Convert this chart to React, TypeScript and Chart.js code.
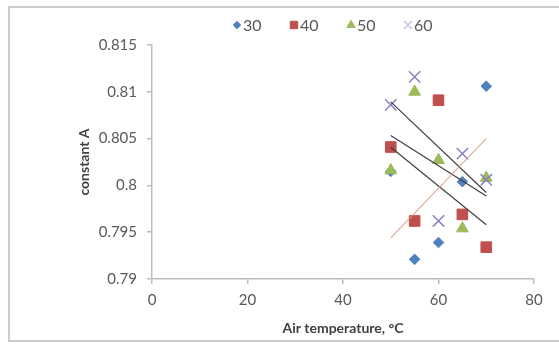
import React, { useEffect, useRef } from 'react';
import { Chart, registerables } from 'chart.js';
import { drawPoint } from 'chart.js/helpers';

Chart.register(...registerables);

// ---- data ----
const TEMPS = [50, 55, 60, 65, 70];
const SERIES_LABELS = ['30', '40', '50', '60'];
const A_30 = [0.8015, 0.7921, 0.7939, 0.8004, 0.8106];
const A_40 = [0.8041, 0.7962, 0.8091, 0.7969, 0.7934];
const A_50 = [0.8016, 0.81, 0.8027, 0.7954, 0.8008];
const A_60 = [0.8086, 0.8116, 0.7962, 0.8034, 0.8006];
const SERIES_VALUES = [A_30, A_40, A_50, A_60];
const X_TICKS = [0, 20, 40, 60, 80];
const Y_TICKS = [0.79, 0.795, 0.8, 0.805, 0.81, 0.815];
const X_TITLE = 'Air temperature, °C';
const Y_TITLE = 'constant A';

// ---- styles ----
const FONT = 'Lato, "Liberation Sans", sans-serif';
const STYLES = [
  { color: '#4F81BD', pointStyle: 'rectRot', radius: 5.3, borderWidth: 1, legendColor: '#4F81BD' },
  { color: '#C0504D', pointStyle: 'rect', radius: 7.5, borderWidth: 1, legendColor: '#C0504D' },
  { color: '#9BBB59', pointStyle: 'triangle', radius: 6.8, borderWidth: 1, legendColor: '#9BBB59' },
  { color: '#8D80C2', pointStyle: 'crossRot', radius: 8, borderWidth: 1.5, legendColor: '#c9c4dd' },
];
const TREND_COLORS = ['rgba(214,160,135,0.85)', '#3f3f3f', '#3f3f3f', '#3f3f3f'];

// least-squares linear trendline (as Excel draws it), over the series' x range
function trendline(xs: number[], ys: number[]) {
  const n = xs.length;
  const mx = xs.reduce((a, b) => a + b, 0) / n;
  const my = ys.reduce((a, b) => a + b, 0) / n;
  let sxy = 0;
  let sxx = 0;
  for (let i = 0; i < n; i++) {
    sxy += (xs[i] - mx) * (ys[i] - my);
    sxx += (xs[i] - mx) * (xs[i] - mx);
  }
  const b = sxy / sxx;
  const a = my - b * mx;
  const x0 = Math.min(...xs);
  const x1 = Math.max(...xs);
  return [
    { x: x0, y: a + b * x0 },
    { x: x1, y: a + b * x1 },
  ];
}

const legendPlugin = {
  id: 'excelLegend',
  afterDraw(chart: any) {
    const ctx = chart.ctx as CanvasRenderingContext2D;
    ctx.save();
    const y = 25;
    const x0 = 237;
    const step = 57;
    SERIES_LABELS.forEach((label, i) => {
      const st = STYLES[i];
      const cx = x0 + i * step;
      ctx.fillStyle = st.legendColor;
      ctx.strokeStyle = st.legendColor;
      ctx.lineWidth = st.borderWidth;
      drawPoint(ctx, { pointStyle: st.pointStyle as any, radius: st.radius * 0.7, borderWidth: st.borderWidth, rotation: 0 }, cx, y);
      ctx.fillStyle = '#595959';
      ctx.font = `16px ${FONT}`;
      ctx.textAlign = 'left';
      ctx.textBaseline = 'middle';
      ctx.fillText(label, cx + 6, y + 1);
    });
    ctx.restore();
  },
};

export default function App() {
  const canvasRef = useRef<HTMLCanvasElement | null>(null);

  useEffect(() => {
    const canvas = canvasRef.current;
    if (!canvas) return;

    const pointSets = SERIES_VALUES.map((vals, i) => ({
      type: 'scatter' as const,
      label: SERIES_LABELS[i],
      data: TEMPS.map((t, j) => ({ x: t, y: vals[j] })),
      backgroundColor: STYLES[i].color,
      borderColor: STYLES[i].color,
      borderWidth: STYLES[i].borderWidth,
      pointStyle: STYLES[i].pointStyle as any,
      pointRadius: STYLES[i].radius,
      pointHoverRadius: STYLES[i].radius,
      order: 4 - i + 1,
    }));

    const trendSets = SERIES_VALUES.map((vals, i) => ({
      type: 'scatter' as const,
      label: 'trend ' + SERIES_LABELS[i],
      data: trendline(TEMPS, vals),
      showLine: true,
      borderColor: TREND_COLORS[i],
      backgroundColor: TREND_COLORS[i],
      borderWidth: 1.2,
      pointRadius: 0,
      order: 0,
    }));

    const chart = new Chart(canvas, {
      type: 'scatter',
      data: { datasets: [...pointSets, ...trendSets] as any },
      options: {
        responsive: false,
        animation: false,
        devicePixelRatio: 1,
        layout: { padding: { left: 0, right: 25, top: 45, bottom: 0 } },
        plugins: {
          legend: { display: false },
          tooltip: { enabled: false },
        },
        scales: {
          x: {
            type: 'linear',
            min: X_TICKS[0],
            max: X_TICKS[X_TICKS.length - 1],
            afterBuildTicks: (s: any) => {
              s.ticks = X_TICKS.map((v) => ({ value: v }));
            },
            afterFit: (s: any) => {
              s.height = 67;
            },
            ticks: {
              font: { family: FONT, size: 15 },
              color: '#595959',
              padding: 7,
            },
            grid: {
              drawOnChartArea: false,
              drawTicks: true,
              tickLength: 5,
              color: '#bdbdbd',
              lineWidth: 1.5,
            },
            border: { color: '#bdbdbd', width: 1.5 },
            title: {
              display: true,
              text: X_TITLE,
              font: { family: FONT, size: 14, weight: 'bold' },
              color: '#404040',
              padding: { top: 0, bottom: 9 },
            },
          },
          y: {
            type: 'linear',
            min: Y_TICKS[0],
            max: Y_TICKS[Y_TICKS.length - 1],
            afterBuildTicks: (s: any) => {
              s.ticks = Y_TICKS.map((v) => ({ value: v }));
            },
            afterFit: (s: any) => {
              s.width = 152;
            },
            ticks: {
              font: { family: FONT, size: 15 },
              color: '#595959',
              padding: 10,
              callback: (v: any) => String(Number(v)),
            },
            grid: {
              drawOnChartArea: false,
              drawTicks: true,
              tickLength: 5,
              color: '#bdbdbd',
              lineWidth: 1.5,
            },
            border: { color: '#bdbdbd', width: 1.5 },
            title: {
              display: true,
              text: Y_TITLE,
              font: { family: FONT, size: 14, weight: 'bold' },
              color: '#404040',
              padding: { top: 76, bottom: 0 },
            },
          },
        },
      } as any,
      plugins: [legendPlugin],
    });

    return () => {
      chart.destroy();
    };
  }, []);

  return (
    <div style={{ position: 'fixed', left: 0, top: 0, width: 559, height: 346, background: '#ffffff', overflow: 'hidden' }}>
      <div
        style={{
          position: 'absolute',
          left: 8,
          top: 6,
          width: 580,
          height: 336,
          border: '2px solid #cdcdcd',
          boxSizing: 'border-box',
        }}
      />
      <canvas
        ref={canvasRef}
        width={559}
        height={346}
        style={{ position: 'absolute', left: 0, top: 0, width: 559, height: 346 }}
      />
    </div>
  );
}
